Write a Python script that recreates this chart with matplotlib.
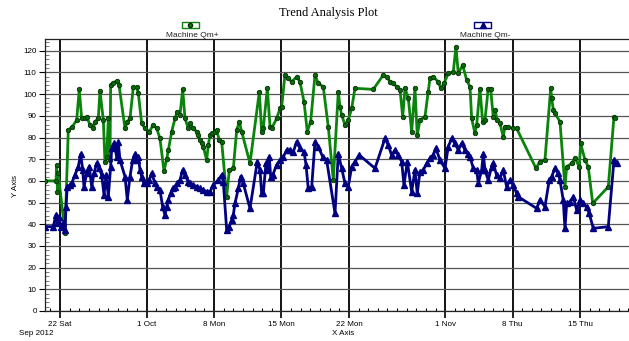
import matplotlib
matplotlib.use("Agg")
import matplotlib.pyplot as plt
import matplotlib.dates as mdates
from matplotlib.patches import Rectangle
from matplotlib.lines import Line2D
from matplotlib.ticker import FixedLocator, MultipleLocator
import pandas as pd
import numpy as np

# ---------------- data ----------------
base_date = "2012-09-22"

qm_plus_days = [-1.56, -0.42, -0.34, -0.26, -0.18, 0.52, 0.86, 1.28, 1.73, 2.00, 2.25, 2.60, 2.77,
                3.12, 3.46, 3.63, 3.98, 4.15, 4.50, 4.67, 4.85, 5.02, 5.19, 5.26, 5.53, 5.95, 6.13,
                6.75, 6.99, 7.27, 7.61, 7.96, 8.13, 8.48, 8.83, 9.27, 9.69, 10.04, 10.38, 10.80,
                11.08, 11.25, 11.60, 11.94, 12.18, 12.46, 12.74, 12.98, 13.32, 13.50, 13.84, 14.20,
                14.36, 14.54, 14.71, 14.88, 15.23, 15.40, 15.58, 15.75, 16.10, 16.27, 16.54, 16.79,
                17.31, 17.58, 18.00, 18.35, 18.62, 18.87, 19.73, 20.70, 20.94, 21.11, 21.53, 21.81,
                21.98, 22.50, 22.85, 23.02, 23.36, 23.71, 24.06, 24.58, 24.92, 25.34, 25.68, 26.03,
                26.48, 26.82, 27.34, 27.86, 28.38, 28.90, 29.08, 29.25, 29.60, 29.94, 30.29, 30.63,
                32.53, 33.57, 33.93, 34.27, 34.61, 34.96, 35.31, 35.59, 35.83, 36.17, 36.52, 36.86,
                37.10, 37.38, 37.90, 38.24, 38.42, 38.76, 39.28, 39.53, 39.88, 40.32, 40.84, 41.12,
                41.36, 41.82, 42.23, 42.58, 42.75, 43.09, 43.27, 43.61, 43.89, 44.13, 44.47, 44.72,
                44.99, 45.17, 45.41, 45.69, 46.03, 46.21, 46.55, 47.01, 47.42, 49.43, 49.84, 50.36,
                50.96, 51.06, 51.23, 51.40, 51.92, 52.44, 52.62, 53.14, 53.48, 53.93, 54.07, 54.52,
                54.86, 55.32, 56.94, 57.53, 57.63]
qm_plus_vals = [60, 60, 67.3, 55, 63.5, 35.8, 83.4, 85, 88, 102.2, 88.8, 88.8, 89.5,
                85.8, 84.2, 87.3, 88.8, 101.6, 88, 68.8, 71.1, 88.8, 69.6, 104.2, 105.3, 106.2, 104.2,
                84.2, 87.3, 88.8, 103.1, 103.1, 100.6, 86.5, 84.2, 82.7, 85.8, 84.2, 79.6, 64.6,
                70, 74.2, 82.7, 88.8, 91.9, 90.4, 102.2, 88.8, 84.2, 86.5, 84.2, 82.7,
                81.1, 78.8, 77.3, 75.8, 69.6, 76.5, 81.1, 81.9, 82.7, 83.4, 78.8, 78.1,
                52.7, 65, 65.8, 83.4, 87.3, 82.7, 68.1, 101.1, 82.7, 84.2, 102.7, 85,
                84.2, 88.8, 93.4, 94.2, 108.8, 107.3, 105.7, 108, 105.7, 96.5, 82.7, 87.3,
                108.8, 105, 103.4, 85, 60.4, 101.1, 94.2, 90.4, 85.8, 88.1, 93.4, 102.7,
                102.2, 108.8, 108, 105.7, 105, 103.4, 101.9, 89.6, 102.7, 98.1, 82.7, 102.7,
                81.1, 88.1, 89.6, 101.1, 107.3, 108, 105.7, 102.7, 105, 109.6, 110.3, 121.9,
                109.6, 113.4, 106.5, 103.4, 88.8, 82, 85.8, 102.6, 87.3, 88.1, 102.6, 102.6,
                89.6, 92.7, 88.1, 86.5, 80.4, 85, 85, 84.2, 84.2, 65.8, 68.9, 69.6,
                102.7, 98.1, 92.7, 91.2, 87.3, 57.3, 66.5, 68.1, 70.4, 66.5, 77.3, 69.6,
                66.5, 49.6, 57.3, 89.6, 88.8]

qm_minus_days = [-1.56, -0.70, -0.42, -0.28, -0.10, 0.07, 0.34, 0.52, 0.62, 0.76, 1.04, 1.21, 1.56,
                 1.90, 2.15, 2.36, 2.49, 2.77, 3.04, 3.29, 3.53, 3.81, 4.08, 4.33, 4.57, 4.78, 5.02,
                 5.26, 5.37, 5.61, 5.89, 6.05, 6.23, 6.75, 6.99, 7.27, 7.55, 7.79, 7.96, 8.13, 8.31,
                 8.48, 8.72, 9.00, 9.27, 9.52, 9.87, 10.10, 10.38, 10.66, 10.90, 11.08, 11.25, 11.50,
                 11.70, 11.94, 12.18, 12.46, 12.74, 12.98, 13.32, 13.50, 13.84, 14.20, 14.54, 14.88,
                 15.23, 15.58, 15.92, 16.44, 16.79, 16.96, 17.31, 17.58, 17.83, 18.00, 18.17, 18.52,
                 18.76, 19.03, 19.73, 20.49, 20.77, 20.94, 21.11, 21.39, 21.53, 21.73, 21.88, 22.09,
                 22.50, 22.85, 23.19, 23.54, 23.88, 24.23, 24.58, 24.92, 25.34, 25.55, 25.78, 26.14,
                 26.48, 26.82, 27.28, 27.69, 28.56, 28.90, 29.25, 29.60, 29.94, 30.29, 30.63, 31.08,
                 32.71, 33.75, 34.09, 34.44, 34.79, 35.13, 35.48, 35.72, 36.07, 36.52, 36.86, 37.10,
                 37.38, 37.73, 38.08, 38.42, 38.76, 39.04, 39.46, 39.98, 40.32, 40.68, 41.02, 41.36,
                 41.71, 42.06, 42.40, 42.58, 42.92, 43.27, 43.44, 43.79, 43.96, 44.13, 44.47, 44.82,
                 44.99, 45.34, 45.69, 46.03, 46.38, 46.73, 47.07, 47.42, 47.59, 49.50, 49.84, 50.36,
                 50.81, 51.06, 51.40, 51.74, 51.92, 52.26, 52.44, 52.62, 52.96, 53.31, 53.65, 54.00,
                 54.27, 54.69, 54.96, 55.38, 56.94, 57.53, 57.81]
qm_minus_vals = [38.9, 38.9, 44.3, 40.4, 43.5, 38.9, 40.4, 37.5, 48.1, 57.3, 58.1, 58.9, 62.7,
                 66.6, 72.3, 65, 57.3, 63.5, 66.6, 57.3, 63.5, 68.1, 65.8, 62.7, 53.5, 62.7, 52.7,
                 66.6, 75, 77.3, 71.1, 78.1, 69.6, 62, 51.2, 62, 69.6, 72.3, 69.6, 71.1, 65,
                 62, 58.9, 58.9, 60.4, 63.5, 58.9, 57.3, 55.8, 48.1, 44.3, 48.1, 51.2, 54.3,
                 56.5, 57.3, 58.9, 60.4, 65, 62.7, 59.6, 58.9, 58.1, 57.3, 56.5, 55.8,
                 55, 55, 58.1, 60.4, 62.7, 59.6, 37.3, 38.9, 42, 44.3, 49.6, 56.5,
                 62, 58.9, 47.3, 68.9, 65, 54.2, 54.2, 68.1, 65, 71.1, 62, 62.7,
                 67.4, 69.6, 71.1, 74.2, 74.2, 73.4, 78.1, 75, 73.4, 67.4, 56.5, 57.3,
                 78.1, 75.8, 71.1, 69.6, 45, 72.6, 65.8, 58.9, 57.3, 66.6, 68.9, 71.9,
                 65.8, 79.6, 76.5, 71.9, 74.2, 71.9, 68.9, 58.1, 68.9, 55, 65, 54.2,
                 64.2, 65, 68.1, 70.4, 71.9, 75, 69.6, 65.8, 75.8, 79.6, 77.3, 74.2,
                 77.3, 74.2, 72.6, 71.1, 65.8, 65, 58.9, 65, 72.6, 65, 60.4, 66.5,
                 68.1, 62.7, 61.2, 65, 57.3, 60.4, 58.1, 54.2, 52.7, 47.3, 51.2, 48.1,
                 60.4, 62, 65.8, 63.5, 60.4, 51.2, 38.1, 49.6, 50.4, 52.7, 46.6, 51.2,
                 49.6, 48.1, 45, 38.1, 38.9, 69.6, 68.1]

series_names = ["Machine Qm+", "Machine Qm-"]
major_tick_dates = ["2012-09-22", "2012-10-01", "2012-10-08", "2012-10-15",
                    "2012-10-22", "2012-11-01", "2012-11-08", "2012-11-15"]
major_tick_labels = ["22 Sat", "1 Oct", "8 Mon", "15 Mon", "22 Mon", "1 Nov", "8 Thu", "15 Thu"]
x_range_days = [-1.56, 59.09]
y_range = [0, 125.3]

# ---------------- plot ----------------
base = pd.Timestamp(base_date)
to_dates = lambda days: [base + pd.Timedelta(days=float(d)) for d in days]

fig = plt.figure(figsize=(6.29, 3.41), dpi=100)
ax = fig.add_axes([0.0715, 0.088, 0.9285, 0.7968])

green = "#0a840a"
navy = "#000080"

ax.plot(to_dates(qm_plus_days), qm_plus_vals, color=green, lw=2.0, marker="o", ms=3.2,
        mfc="#0a6a0a", mec="#033003", mew=0.6, zorder=4, clip_on=True)
ax.plot(to_dates(qm_minus_days), qm_minus_vals, color=navy, lw=2.0, marker="^", ms=4.8,
        mfc=navy, mec=navy, zorder=5, clip_on=True)

ax.set_xlim(to_dates(x_range_days))
ax.set_ylim(y_range)

major_locs = [mdates.date2num(pd.Timestamp(d)) for d in major_tick_dates]
ax.xaxis.set_major_locator(FixedLocator(major_locs))
ax.set_xticklabels(major_tick_labels)
ax.xaxis.set_minor_locator(mdates.DayLocator())
ax.yaxis.set_major_locator(MultipleLocator(10))
ax.yaxis.set_minor_locator(MultipleLocator(2))

ax.tick_params(axis="x", which="major", direction="out", length=5, width=1.2, color="black",
               labelsize=5.8, pad=2)
ax.tick_params(axis="x", which="minor", direction="in", length=2.5, width=0.8, color="black")
ax.tick_params(axis="y", which="major", direction="out", length=4, width=0.8, color="black",
               labelsize=5.8, pad=2)
ax.tick_params(axis="y", which="minor", direction="in", length=3, width=0.5, color="#444444")

for lbl in ax.get_xticklabels() + ax.get_yticklabels():
    lbl.set_family("Liberation Sans")

ax.grid(axis="y", which="major", color="#555555", lw=0.9, zorder=1)
ax.grid(axis="x", which="major", color="black", lw=1.3, zorder=1)
ax.set_axisbelow(True)

for side in ["right"]:
    ax.spines[side].set_visible(False)
for side in ["left", "bottom", "top"]:
    ax.spines[side].set_color("#222222")
    ax.spines[side].set_linewidth(0.9)

# title and axis labels
fig.text(0.5225, 0.963, "Trend Analysis Plot", ha="center", va="center",
         family="Liberation Serif", fontsize=9)
fig.text(0.024, 0.455, "Y Axis", rotation=90, ha="center", va="center",
         family="Liberation Sans", fontsize=5.8)
fig.text(0.545, 0.023, "X Axis", ha="center", va="center",
         family="Liberation Sans", fontsize=5.8)
fig.text(0.057, 0.023, "Sep 2012", ha="center", va="center",
         family="Liberation Sans", fontsize=5.8)

# legend entries above the plot
legend_specs = [(0.2893, green, "o", 3.0, 0.3052), (0.7536, navy, "^", 4.5, 0.7719)]
for (x0, col, mk, ms, tx), name in zip(legend_specs, series_names):
    fig.add_artist(Rectangle((x0, 0.918), 0.027, 0.0176, transform=fig.transFigure,
                             fill=False, edgecolor=col, lw=1.0))
    fig.add_artist(Line2D([x0 + 0.0135], [0.9268], transform=fig.transFigure, marker=mk,
                          ms=ms, color=col, mec=col if mk == "^" else "#033003", ls="none"))
    fig.text(tx, 0.897, name, ha="center", va="center", family="Liberation Sans",
             fontsize=6, color="#222222")

fig.savefig("out.png", dpi=100)
